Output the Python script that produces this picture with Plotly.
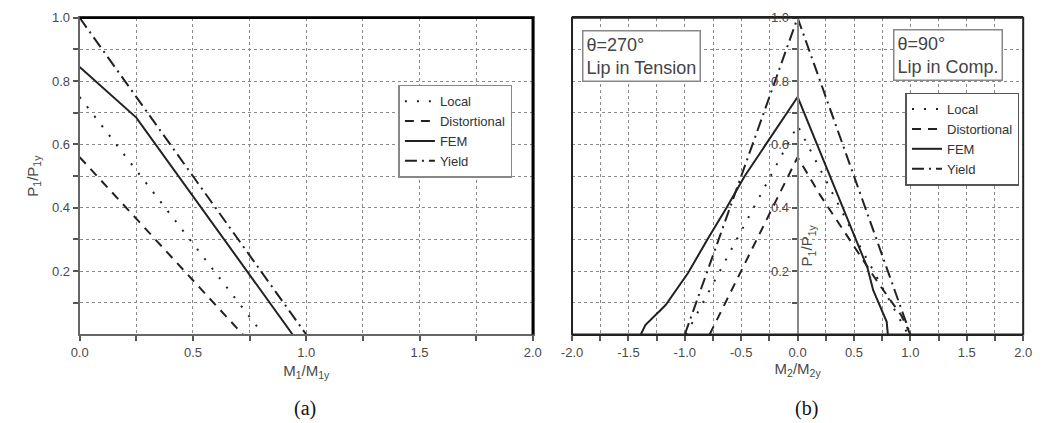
import plotly.graph_objects as go

# ---------------- data ----------------
series_names = ["Local", "Distortional", "FEM", "Yield"]

# panel (a): P1/P1y vs M1/M1y
a_local_x = [0.0, 0.81]
a_local_y = [0.75, 0.0]
a_dist_x = [0.0, 0.72]
a_dist_y = [0.56, 0.0]
a_fem_x = [0.0, 0.25, 0.94]
a_fem_y = [0.845, 0.685, 0.0]
a_yield_x = [0.0, 1.0]
a_yield_y = [1.0, 0.0]

# panel (b): P1/P1y vs M2/M2y
b_local_x = [-0.99, 0.0, 0.55, 0.98]
b_local_y = [0.0, 0.66, 0.28, 0.0]
b_dist_x = [-0.78, 0.0, 0.2, 0.52, 0.72, 0.92, 1.0]
b_dist_y = [0.0, 0.56, 0.44, 0.27, 0.16, 0.06, 0.0]
b_fem_x = [-1.39, -1.35, -1.17, -0.97, -0.8, -0.63, -0.47, -0.28, 0.0, 0.62, 0.67, 0.79, 0.8]
b_fem_y = [0.0, 0.03, 0.093, 0.195, 0.3, 0.4, 0.5, 0.6, 0.75, 0.21, 0.14, 0.04, 0.0]
b_yield_x = [-1.0, 0.0, 1.0]
b_yield_y = [0.0, 1.0, 0.0]

y_tickvals = [0.2, 0.4, 0.6, 0.8, 1.0]
y_ticktext = ["0.2", "0.4", "0.6", "0.8", "1.0"]
a_x_tickvals = [0.0, 0.5, 1.0, 1.5, 2.0]
a_x_ticktext = ["0.0", "0.5", "1.0", "1.5", "2.0"]
b_x_tickvals = [-2.0, -1.5, -1.0, -0.5, 0.0, 0.5, 1.0, 1.5, 2.0]
b_x_ticktext = ["-2.0", "-1.5", "-1.0", "-0.5", "0.0", "0.5", "1.0", "1.5", "2.0"]

# ---------------- styles ----------------
W, H = 1042, 423
styles = {
    "Local": dict(color="#222", width=2, dash="2px,10px"),
    "Distortional": dict(color="#222", width=2, dash="9px,7px"),
    "FEM": dict(color="#222", width=2, dash="solid"),
    "Yield": dict(color="#222", width=2, dash="12px,5px,2px,5px"),
}

fig = go.Figure()
a_data = [(a_local_x, a_local_y), (a_dist_x, a_dist_y), (a_fem_x, a_fem_y), (a_yield_x, a_yield_y)]
b_data = [(b_local_x, b_local_y), (b_dist_x, b_dist_y), (b_fem_x, b_fem_y), (b_yield_x, b_yield_y)]
for name, (xs, ys) in zip(series_names, a_data):
    fig.add_trace(go.Scatter(x=xs, y=ys, mode="lines", name=name, line=styles[name],
                             xaxis="x", yaxis="y", legend="legend"))
for name, (xs, ys) in zip(series_names, b_data):
    fig.add_trace(go.Scatter(x=xs, y=ys, mode="lines", name=name, line=styles[name],
                             xaxis="x2", yaxis="y2", legend="legend2"))

ax_dom = [70 / W, 532 / W]
bx_dom = [572 / W, 1032 / W]
y_dom = [1 - 333 / H, 1 - 11 / H]
tickfont = dict(family="Liberation Sans, Arial", size=13, color="#4a4a4a")
grid = dict(showgrid=True, gridcolor="#8a8a8a", griddash="dot", gridwidth=1)
minor_grid = dict(showgrid=True, gridcolor="#8a8a8a", griddash="dot", gridwidth=1)

common_x = dict(
    ticks="outside", ticklen=5, tickcolor="#555", tickwidth=1.5,
    tickfont=tickfont, zeroline=False, **grid,
    minor=dict(dtick=0.25, ticks="outside", ticklen=5, tickcolor="#555", tickwidth=1.5,
               **minor_grid),
)
common_y = dict(
    tickvals=y_tickvals, ticktext=y_ticktext, ticks="outside", ticklen=5, tickcolor="#555",
    tickwidth=1.5, tickfont=tickfont, zeroline=False, **grid,
    minor=dict(tickvals=[0.1, 0.3, 0.5, 0.7, 0.9], ticks="outside", ticklen=5, tickcolor="#555",
               tickwidth=1.5, **minor_grid),
)

title_font = dict(family="Liberation Sans, Arial", size=15, color="#4a4a4a")
legend_font = dict(family="Liberation Sans, Arial", size=13, color="#333")

fig.update_layout(
    width=W, height=H,
    margin=dict(l=0, r=0, t=0, b=0),
    paper_bgcolor="white", plot_bgcolor="white",
    xaxis=dict(domain=ax_dom, range=[0, 2], tickvals=a_x_tickvals, ticktext=a_x_ticktext,
               anchor="y", showline=True, linecolor="#666", linewidth=2, mirror=True,
               title=dict(text="M<sub>1</sub>/M<sub>1y</sub>", font=title_font, standoff=6),
               **common_x),
    yaxis=dict(domain=y_dom, range=[0, 1], anchor="x",
               showline=True, linecolor="#666", linewidth=2, mirror=True,
               title=dict(text="P<sub>1</sub>/P<sub>1y</sub>", font=title_font, standoff=10),
               **common_y),
    xaxis2=dict(domain=bx_dom, range=[-2, 2], tickvals=b_x_tickvals, ticktext=b_x_ticktext,
                anchor="y2", showline=True, linecolor="#222", linewidth=2, mirror=True,
                title=dict(text="M<sub>2</sub>/M<sub>2y</sub>", font=title_font, standoff=2),
                **common_x),
    yaxis2=dict(domain=y_dom, range=[0, 1], anchor="free",
                position=(bx_dom[0] + bx_dom[1]) / 2,
                showline=True, linecolor="#888", linewidth=2,
                **common_y),
    legend=dict(x=395 / W, y=1 - 79 / H, xanchor="left", yanchor="top",
                bgcolor="white", bordercolor="#888", borderwidth=1.5,
                font=legend_font, itemwidth=30, tracegroupgap=0),
    legend2=dict(x=912 / W, y=1 - 87 / H, xanchor="left", yanchor="top",
                 bgcolor="white", bordercolor="#555", borderwidth=1.5,
                 font=legend_font, itemwidth=30, tracegroupgap=0),
    showlegend=True,
)

# frame edges
fig.add_shape(type="path", path="M 0 1 L 1 1 L 1 0", xref="x domain", yref="y domain",
              line=dict(color="black", width=2.5))
fig.add_shape(type="rect", x0=0, x1=1, y0=0, y1=1, xref="x2 domain", yref="y2 domain",
              line=dict(color="#222", width=2))

box_font = dict(family="Liberation Sans, Arial", size=18, color="#444")
fig.add_annotation(text="θ=270°<br>Lip in Tension", xref="paper", yref="paper",
                   x=582 / W, y=1 - 23 / H, xanchor="left", yanchor="top", align="left",
                   showarrow=False, font=box_font, bgcolor="white",
                   bordercolor="#888", borderwidth=1.5, borderpad=3)
fig.add_annotation(text="θ=90°<br>Lip in Comp.", xref="paper", yref="paper",
                   x=899 / W, y=1 - 22 / H, xanchor="left", yanchor="top", align="left",
                   showarrow=False, font=box_font, bgcolor="white",
                   bordercolor="#888", borderwidth=1.5, borderpad=3)
fig.add_annotation(text="P<sub>1</sub>/P<sub>1y</sub>", xref="paper", yref="paper",
                   x=813 / W, y=1 - 242 / H, xanchor="center", yanchor="middle",
                   textangle=-90, showarrow=False, font=title_font)
cap_font = dict(family="Liberation Serif, Times New Roman", size=20, color="#111")
fig.add_annotation(text="(a)", xref="paper", yref="paper", x=300 / W, y=1 - 408 / H,
                   xanchor="center", yanchor="middle", showarrow=False, font=cap_font)
fig.add_annotation(text="(b)", xref="paper", yref="paper", x=811 / W, y=1 - 408 / H,
                   xanchor="center", yanchor="middle", showarrow=False, font=cap_font)

fig.write_html("out.html")
